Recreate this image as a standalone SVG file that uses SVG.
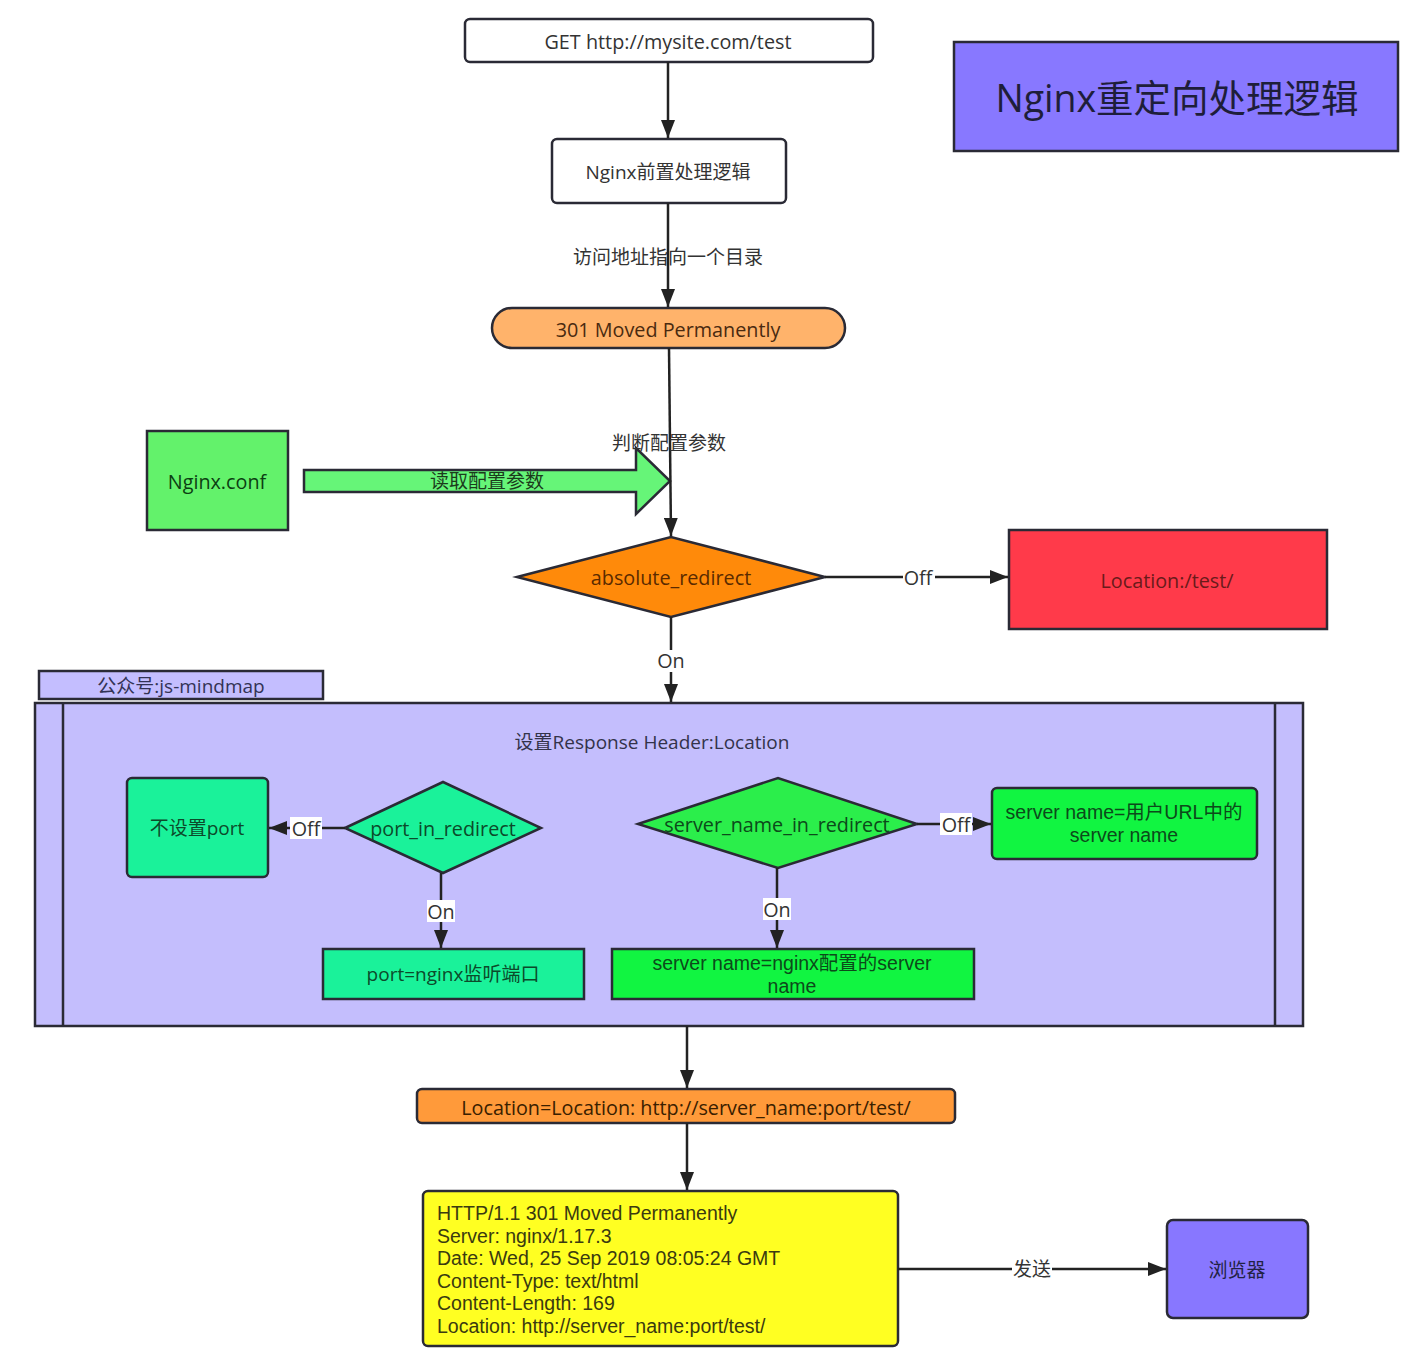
<svg xmlns="http://www.w3.org/2000/svg" width="1416" height="1350" viewBox="0 0 1416 1350">
<defs>
<marker id="ah" viewBox="0 0 18 14" refX="18" refY="7" markerWidth="18" markerHeight="14" markerUnits="userSpaceOnUse" orient="auto"><path d="M0,0 L18,7 L0,14 Z" fill="#222"/></marker>
<style>
text{font-family:"Open Sans","Noto Sans CJK SC",sans-serif;font-size:19px;fill:#333;text-anchor:middle;dominant-baseline:central}
.lt{font-size:19.8px}
.ml{font-family:"Liberation Sans","Noto Sans CJK SC",sans-serif;font-size:19.5px}
.n{stroke:#2a2a35;stroke-width:2.5}
.c{stroke:#222;stroke-width:2.5;fill:none}
.ca{stroke:#222;stroke-width:2.5;fill:none;marker-end:url(#ah)}
.lb{fill:#fff}
.left{text-anchor:start}
</style>
</defs>
<rect width="1416" height="1350" fill="#fff"/>

<g id="title"><rect class="n" x="954" y="42" width="444" height="109" fill="#8878FF"/><text x="1177" y="97" style="font-size:37.5px;fill:#1e1e3a">Nginx重定向处理逻辑</text></g>

<g id="get"><rect class="n" x="465" y="19" width="408" height="43" rx="5" fill="#fff"/><text class="lt" x="668" y="41">GET http://mysite.com/test</text></g>
<g id="pre"><rect class="n" x="552" y="139" width="234" height="64" rx="5" fill="#fff"/><text x="668" y="172">Nginx前置处理逻辑</text></g>
<g id="moved"><rect class="n" x="492" y="308" width="353" height="40" rx="20" fill="#FFB36B"/><text class="lt" x="668" y="329" style="fill:#4a2a10">301 Moved Permanently</text></g>

<g id="conf"><rect class="n" x="147" y="431" width="141" height="99" fill="#63F26B"/><text class="lt" x="217" y="481" style="fill:#0c3e12">Nginx.conf</text></g>
<g id="read"><polygon class="n" points="304,470 636,470 636,448 670,481 636,514 636,492 304,492" fill="#66F578"/><text x="487" y="481" style="fill:#1c3c1c">读取配置参数</text></g>

<g id="absolute"><polygon class="n" points="517,577 671,537 825,577 671,617" fill="#FF8A0A"/><text class="lt" x="671" y="577" style="fill:#5a2a00">absolute_redirect</text></g>
<g id="loctest"><rect class="n" x="1009" y="530" width="318" height="99" fill="#FF3A4A"/><text class="lt" x="1167" y="580" style="fill:#6a1a1a">Location:/test/</text></g>

<g id="wechat"><rect class="n" x="39" y="671" width="284" height="28" fill="#C4BEFF"/><text x="181" y="686" style="fill:#333355">公众号:js-mindmap</text></g>

<g id="container">
<rect class="n" x="35" y="703" width="1268" height="323" fill="#C4BEFD"/>
<line class="n" x1="63" y1="703" x2="63" y2="1026"/>
<line class="n" x1="1275" y1="703" x2="1275" y2="1026"/>
<text x="652" y="742" style="fill:#33334a">设置Response Header:Location</text>
</g>

<g id="noport"><rect class="n" x="127" y="778" width="141" height="99" rx="5" fill="#1AF29A"/><text x="197" y="828" style="fill:#0c4a2a">不设置port</text></g>
<g id="portdia"><polygon class="n" points="345,828 443,782 541,828 443,873" fill="#1AF29A"/><text class="lt" x="443" y="828" style="fill:#0c4a2a">port_in_redirect</text></g>
<g id="portnginx"><rect class="n" x="323" y="949" width="261" height="50" fill="#1AF29A"/><text x="453" y="974" style="fill:#0c4a2a">port=nginx监听端口</text></g>

<g id="sndia"><polygon class="n" points="638,824 778,778 917,824 778,868" fill="#2BEE4B"/><text class="lt" x="777" y="824" style="fill:#0c4a1a">server_name_in_redirect</text></g>
<g id="snuser"><rect class="n" x="992" y="788" width="265" height="71" rx="5" fill="#11F541"/><text class="ml" x="1124" y="812" style="fill:#0c4a1a"><tspan x="1124" y="812">server name=用户URL中的</tspan><tspan x="1124" y="835">server name</tspan></text></g>
<g id="snnginx"><rect class="n" x="612" y="949" width="362" height="50" fill="#11F541"/><text class="ml" x="792" y="963" style="fill:#0c4a1a"><tspan x="792" y="963">server name=nginx配置的server</tspan><tspan x="792" y="986">name</tspan></text></g>

<g id="locset"><rect class="n" x="417" y="1089" width="538" height="34" rx="5" fill="#FF9A3A"/><text class="lt" x="686" y="1107" style="fill:#3a2000">Location=Location: http://server_name:port/test/</text></g>

<g id="resp"><rect class="n" x="423" y="1191" width="475" height="155" rx="5" fill="#FFFF22"/>
<text class="left ml" x="437" y="1213" style="fill:#3a3a10"><tspan x="437" y="1213">HTTP/1.1 301 Moved Permanently</tspan><tspan x="437" y="1236">Server: nginx/1.17.3</tspan><tspan x="437" y="1258">Date: Wed, 25 Sep 2019 08:05:24 GMT</tspan><tspan x="437" y="1281">Content-Type: text/html</tspan><tspan x="437" y="1303">Content-Length: 169</tspan><tspan x="437" y="1326">Location: http://server_name:port/test/</tspan></text>
</g>

<g id="browser"><rect class="n" x="1167" y="1220" width="141" height="98" rx="6" fill="#8877FF"/><text x="1237" y="1270" style="fill:#222244">浏览器</text></g>

<g id="connectors">
<line class="ca" x1="668" y1="62" x2="668" y2="138"/>
<line class="ca" x1="668" y1="203" x2="668" y2="307"/>
<text x="668" y="257">访问地址指向一个目录</text>
<line class="ca" x1="669" y1="348" x2="671" y2="536"/>
<text x="669" y="443">判断配置参数</text>
<line class="ca" x1="825" y1="577" x2="1008" y2="577"/>
<rect class="lb" x="903" y="566" width="32" height="22"/>
<text class="lt" x="918" y="577">Off</text>
<line class="ca" x1="671" y1="617" x2="671" y2="702"/>
<rect class="lb" x="656" y="650" width="30" height="22"/>
<text class="lt" x="671" y="660">On</text>
<line class="ca" x1="345" y1="828" x2="269" y2="828"/>
<rect class="lb" x="290" y="817" width="32" height="22"/>
<text class="lt" x="306" y="828">Off</text>
<line class="ca" x1="441" y1="873" x2="441" y2="948"/>
<rect class="lb" x="427" y="900" width="28" height="22"/>
<text class="lt" x="441" y="911">On</text>
<line class="ca" x1="917" y1="824" x2="991" y2="824"/>
<rect class="lb" x="940" y="813" width="32" height="22"/>
<text class="lt" x="956" y="824">Off</text>
<line class="ca" x1="777" y1="868" x2="777" y2="948"/>
<rect class="lb" x="763" y="898" width="28" height="22"/>
<text class="lt" x="777" y="909">On</text>
<line class="ca" x1="687" y1="1026" x2="687" y2="1088"/>
<line class="ca" x1="687" y1="1123" x2="687" y2="1190"/>
<line class="ca" x1="898" y1="1269" x2="1166" y2="1269"/>
<rect class="lb" x="1012" y="1258" width="40" height="22"/>
<text x="1032" y="1269">发送</text>
</g>
</svg>
